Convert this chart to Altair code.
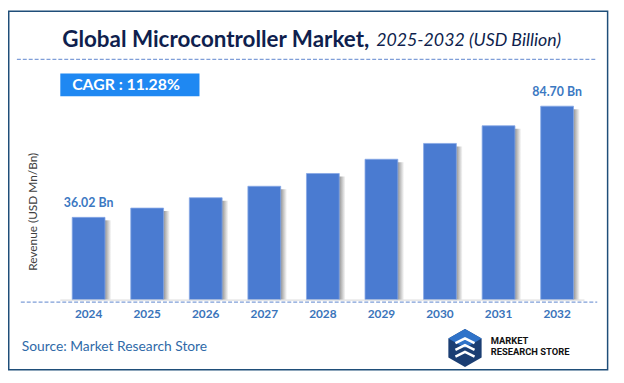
import altair as alt
import pandas as pd

years = ["2024", "2025", "2026", "2027", "2028", "2029", "2030", "2031", "2032"]
revenue = [36.02, 40.08, 44.60, 49.63, 55.23, 61.46, 68.39, 76.11, 84.70]
bar_labels = ["36.02 Bn", "", "", "", "", "", "", "", "84.70 Bn"]
title_main = "Global Microcontroller Market,"
title_sub = "2025-2032 (USD Billion)"
cagr_text = "CAGR :  11.28%"
y_title = "Revenue (USD Mn/Bn)"
source_text = "Source: Market Research Store"
logo_line1 = "MARKET"
logo_line2 = "RESEARCH STORE"

df = pd.DataFrame({"year": years, "revenue": revenue, "label": bar_labels})
one = pd.DataFrame({"k": [0]})

W, H = 616, 375
FONT = "Lato"

xs = alt.Scale(domain=years, range=[52, 586], paddingInner=0.44, paddingOuter=0.22,
               round=False)
ys = alt.Scale(domain=[0, 84.7], range=[293, 97], nice=False, zero=True)
X = alt.X("year:N", scale=xs, axis=None, sort=years)
Y = alt.Y("revenue:Q", scale=ys, axis=None)

shadow = alt.Chart(df).mark_bar(
    width=8,
    xOffset=19,
    color={"gradient": "linear", "x1": 0, "x2": 1, "y1": 0, "y2": 0,
           "stops": [{"offset": 0, "color": "#7a7a7a"},
                     {"offset": 1, "color": "#ffffff"}]},
).encode(x=X, y=Y, y2=alt.value(293), yOffset=alt.value(3))

bars = alt.Chart(df).mark_bar(
    color="#4a7bd1", stroke="#86a7e6", strokeWidth=0.8
).encode(x=X, y=Y, y2=alt.value(293))

labels = alt.Chart(df).mark_text(
    font=FONT, fontWeight="bold", fontSize=12.5, color="#3b78c2", dy=-14, baseline="middle"
).encode(x=X, y=Y, text="label:N")

xlabels = alt.Chart(df).mark_text(
    font=FONT, fontWeight="bold", fontSize=12, color="#3a74ba", baseline="middle"
).encode(x=X, y=alt.value(308), text="year:N")

base_solid = alt.Chart(one).mark_rule(color="#d6d6d6", strokeWidth=1).encode(
    x=alt.value(53), x2=alt.value(584), y=alt.value(293.5))
base_dash = alt.Chart(one).mark_rule(color="#7f9ed8", strokeWidth=1.2, strokeDash=[4, 2]).encode(
    x=alt.value(13), x2=alt.value(597), y=alt.value(295.5))
title_dash = alt.Chart(one).mark_rule(color="#7f9ed8", strokeWidth=1.2, strokeDash=[4, 2]).encode(
    x=alt.value(9), x2=alt.value(595), y=alt.value(49.5))

border = alt.Chart(one).mark_rect(fill=None, stroke="#1f4e79", strokeWidth=1.5).encode(
    x=alt.value(0.75), x2=alt.value(607.5), y=alt.value(0.75), y2=alt.value(364))

t_main = alt.Chart(one).mark_text(
    text=title_main, font=FONT, fontWeight="bold", fontSize=22.7, color="#0f1f4e",
    align="right", baseline="middle").encode(x=alt.value(366), y=alt.value(30))
t_sub = alt.Chart(one).mark_text(
    text=title_sub, font=FONT, fontStyle="italic", fontSize=18, color="#0f1f4e",
    align="left", baseline="middle").encode(x=alt.value(373), y=alt.value(31))

cagr_box = alt.Chart(one).mark_rect(color="#1f88f2").encode(
    x=alt.value(53), x2=alt.value(194), y=alt.value(64), y2=alt.value(87))
cagr = alt.Chart(one).mark_text(
    text=cagr_text, font=FONT, fontWeight="bold", fontSize=16, color="#ffffff",
    align="left", baseline="middle").encode(x=alt.value(65), y=alt.value(76))

ytitle = alt.Chart(one).mark_text(
    text=y_title, font=FONT, fontSize=12, color="#404040", angle=270,
    align="center", baseline="middle").encode(x=alt.value(25), y=alt.value(204))

source = alt.Chart(one).mark_text(
    text=source_text, font=FONT, fontSize=14, color="#2f6aa8",
    align="left", baseline="middle").encode(x=alt.value(14), y=alt.value(341))

hexagon = "M0,-1L0.87,-0.5L0.87,0.5L0,1L-0.87,0.5L-0.87,-0.5Z"
topface = "M0,-1L0.87,-0.5L0,0L-0.87,-0.5Z"
logo_hex = alt.Chart(one).mark_point(
    shape=hexagon, filled=True, color="#1b3e73", size=1500, opacity=1).encode(
    x=alt.value(463), y=alt.value(342))
logo_top = alt.Chart(one).mark_point(
    shape=topface, filled=True, color="#2f73c9", size=1500, opacity=1).encode(
    x=alt.value(463), y=alt.value(342))
logo_s = alt.Chart(one).mark_point(
    shape="M-0.5,0.1L0,-0.15L0.5,0.1M-0.5,0.45L0,0.2L0.5,0.45M-0.5,-0.25L0,-0.5L0.5,-0.25",
    filled=False, color="#ffffff", strokeWidth=2.5, size=1500, opacity=1).encode(
    x=alt.value(463), y=alt.value(342))
logo_t1 = alt.Chart(one).mark_text(
    text=logo_line1, font="Roboto", fontWeight="bold", fontSize=9.5, color="#111111",
    align="left", baseline="middle").encode(x=alt.value(489), y=alt.value(335))
logo_t2 = alt.Chart(one).mark_text(
    text=logo_line2, font="Roboto", fontWeight="bold", fontSize=9.5, color="#111111",
    align="left", baseline="middle").encode(x=alt.value(489), y=alt.value(346))

chart = alt.layer(
    shadow, bars, base_solid, base_dash, labels, xlabels, title_dash, border,
    t_main, t_sub, cagr_box, cagr, ytitle, source, logo_hex, logo_top, logo_s,
    logo_t1, logo_t2
).properties(
    width=W, height=H, autosize=alt.AutoSizeParams(type="none"), padding=0
).configure_view(stroke=None)

chart.save("out.html", embed_options={"renderer": "svg", "actions": False})
